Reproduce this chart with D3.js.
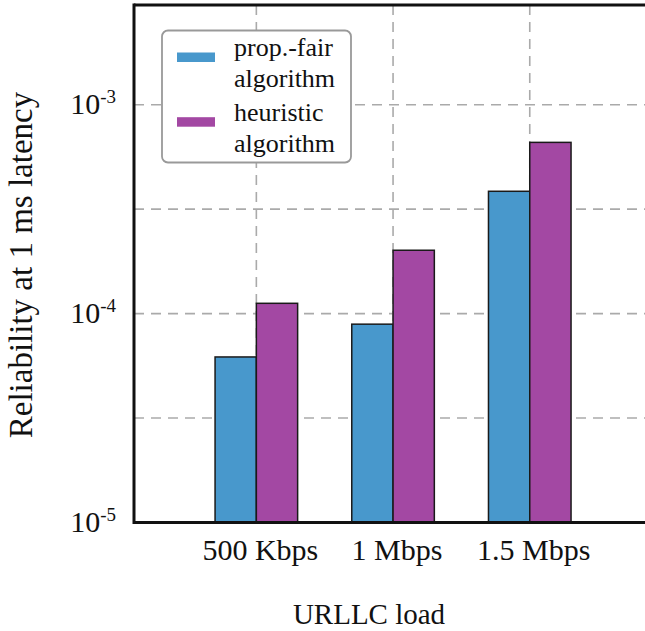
<!DOCTYPE html>
<html>
<head>
<meta charset="utf-8">
<script src="https://cdn.jsdelivr.net/npm/d3@7"></script>
<style>
  html, body { margin: 0; padding: 0; background: #fff; }
  svg { display: block; }
</style>
</head>
<body>
<svg id="chart" width="645" height="631"></svg>
<script>
// ---- data ----
const categories = ["500 Kbps", "1 Mbps", "1.5 Mbps"];
const seriesNames = ["prop.-fair\nalgorithm", "heuristic\nalgorithm"];
const propFair = [6.2e-5, 8.9e-5, 3.85e-4];
const heuristic = [1.12e-4, 2.01e-4, 6.6e-4];
const seriesColors = ["#4898cc", "#a348a3"];
const yTickValues = [1e-5, 1e-4, 1e-3];
const yTickExponents = ["-5", "-4", "-3"];
const yGridValues = [Math.pow(10, -4.5), 1e-4, Math.pow(10, -3.5), 1e-3];
const xLabel = "URLLC load";
const yLabel = "Reliability at 1 ms latency";

const FONT = "'Liberation Serif', 'DejaVu Serif', serif";
const svg = d3.select("#chart").attr("font-family", FONT).style("font-family", FONT);
const mLeft = 134, mTop = 5, mBottom = 522.5, mRight = 645;

const y = d3.scaleLog().domain([1e-5, 3e-3]).range([mBottom, mTop]);
const x = d3.scaleLinear().domain([-0.895, 2.843]).range([mLeft, mRight]);
const bw = 0.302;

// grid
const grid = svg.append("g").attr("stroke", "#aaa").attr("stroke-width", 1.6).attr("stroke-dasharray", "10,7");
grid.selectAll("line.h").data(yGridValues).join("line").attr("class", "h")
  .attr("x1", mLeft).attr("x2", mRight).attr("y1", d => y(d)).attr("y2", d => y(d));
grid.selectAll("line.v").data(categories).join("line").attr("class", "v")
  .attr("x1", (d, i) => x(i)).attr("x2", (d, i) => x(i)).attr("y1", mTop).attr("y2", mBottom);

// bars
const series = [propFair, heuristic];
series.forEach((vals, s) => {
  svg.append("g").selectAll("rect").data(vals).join("rect")
    .attr("x", (d, i) => x(i + (s === 0 ? -bw : 0)))
    .attr("width", x(bw) - x(0))
    .attr("y", d => y(d))
    .attr("height", d => mBottom - y(d))
    .attr("fill", seriesColors[s])
    .attr("stroke", "#1a1a1a")
    .attr("stroke-width", 1.5);
});

// axes frame
const frame = svg.append("g").attr("stroke", "#111").attr("stroke-width", 3).attr("fill", "none");
frame.append("line").attr("x1", mLeft).attr("x2", mLeft).attr("y1", mTop - 1.5).attr("y2", mBottom + 1.5);
frame.append("line").attr("x1", mLeft).attr("x2", mRight).attr("y1", mBottom).attr("y2", mBottom);
frame.append("line").attr("x1", mLeft).attr("x2", mRight).attr("y1", mTop).attr("y2", mTop);

function txt(sel) {
  return sel.append("text").attr("font-family", FONT).style("font-family", FONT).attr("fill", "#111");
}

// y tick labels
yTickValues.forEach((v, i) => {
  const t = txt(svg).attr("x", 116).attr("y", y(v) + 9.5)
    .attr("text-anchor", "end").style("font-size", "30px");
  t.append("tspan").text("10");
  t.append("tspan").attr("dy", -11.5).style("font-size", "19px").text(yTickExponents[i]);
});

// x tick labels
categories.forEach((c, i) => {
  txt(svg).attr("x", x(i) + 4).attr("y", 560)
    .attr("text-anchor", "middle").style("font-size", "30px").text(c);
});

// axis titles
txt(svg).attr("x", 369).attr("y", 624).attr("text-anchor", "middle")
  .style("font-size", "29px").text(xLabel);
txt(svg).attr("transform", "translate(32,265) rotate(-90)")
  .attr("text-anchor", "middle").style("font-size", "33px").text(yLabel);

// legend
const lg = svg.append("g");
lg.append("rect").attr("x", 162).attr("y", 30.5).attr("width", 189).attr("height", 132)
  .attr("rx", 6).attr("fill", "#fff").attr("stroke", "#999").attr("stroke-width", 1.8);
const entryY = [56, 120.7];
seriesNames.forEach((name, s) => {
  lg.append("rect").attr("x", 177).attr("y", entryY[s] - 3.5).attr("width", 38).attr("height", 9.5)
    .attr("fill", seriesColors[s]);
  name.split("\n").forEach((line, k) => {
    txt(lg).attr("x", 234).attr("y", entryY[s] + k * 30.8)
      .style("font-size", "26px").text(line);
  });
});
</script>
</body>
</html>
